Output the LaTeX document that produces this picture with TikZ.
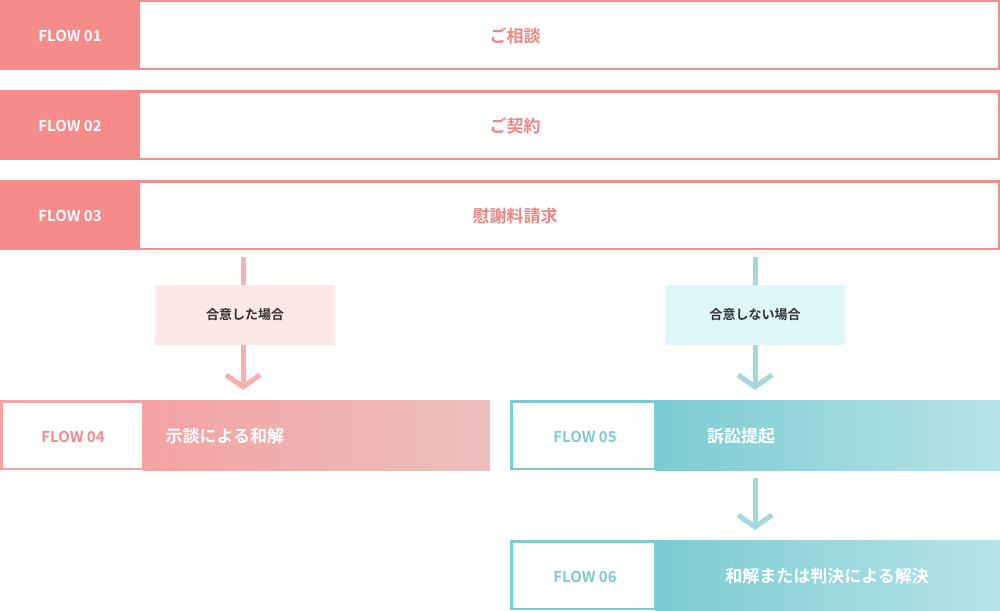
\documentclass[tikz,border=0pt]{standalone}
\usepackage{fontspec}
\setmainfont{Noto Sans CJK JP}[BoldFont={Noto Sans CJK JP Bold}]
\usetikzlibrary{arrows.meta}
\definecolor{sal}{HTML}{F58B8B}
\definecolor{salt}{HTML}{F08585}
\definecolor{pk1}{HTML}{F4A3A3}
\definecolor{pk2}{HTML}{EDBEBE}
\definecolor{pkl}{HTML}{FDE7E7}
\definecolor{pka}{HTML}{FBB0B0}
\definecolor{tl1}{HTML}{7CCBD2}
\definecolor{tl2}{HTML}{B6E4E8}
\definecolor{tll}{HTML}{E0F7FA}
\definecolor{tla}{HTML}{A3D9DE}
\begin{document}
\begin{tikzpicture}[x=1pt,y=-1pt,font=\bfseries,
 lab/.style={font=\bfseries\fontsize{15}{15}\selectfont,text=white},
 ttl/.style={font=\bfseries\fontsize{17}{17}\selectfont,text=salt},
 wt/.style={font=\bfseries\fontsize{17}{17}\selectfont,text=white},
 cond/.style={font=\bfseries\fontsize{13}{13}\selectfont,text=black!80},
 arr/.style={line width=5pt,-{Straight Barb[length=12pt,width=34pt,line width=5pt]}}]
\useasboundingbox (0,0) rectangle (1000,610);
% rows 1-3
\foreach \y/\n/\t in {0/01/ご相談,90/02/ご契約,180/03/慰謝料請求}{
 \fill[sal] (0,\y) rectangle (139,\y+70);
 \draw[sal,line width=2.5pt] (139,\y+1.25) rectangle (998.75,\y+68.75);
 \node[lab] at (70,\y+36) {FLOW \n};
 \node[ttl] at (515,\y+36) {\t};
}
\coordinate (l0) at (243,257); \coordinate (r0) at (755,257);
\node[fill=pkl,minimum width=180pt,minimum height=60pt,inner sep=0,cond] (lc) at (245,315) {合意した場合};
\node[fill=tll,minimum width=180pt,minimum height=60pt,inner sep=0,cond] (rc) at (755,315) {合意しない場合};
\draw[pka,line width=5pt] (l0) -- (243,285);
\draw[tla,line width=5pt] (r0) -- (755,285);
\coordinate (l1) at (243,390); \coordinate (r1) at (755,390);
\draw[pka,arr] (243,345) -- (l1);
\draw[tla,arr] (755,345) -- (r1);
% row 4
\shade[left color=pk1,right color=pk2] (143,400) rectangle (490,470);
\draw[pk1,line width=2.5pt] (1.25,401.25) rectangle (143,468.75);
\node[lab,text=sal] at (73,437) {FLOW 04};
\node[wt,anchor=west] at (162,436) {示談による和解};
% row 5
\shade[left color=tl1,right color=tl2] (655,400) rectangle (1000,470);
\draw[tl1,line width=2.5pt] (511.25,401.25) rectangle (655,468.75);
\node[lab,text=tl1] at (585,437) {FLOW 05};
\node[wt] at (741,436) {訴訟提起};
\draw[tla,arr] (755,478) -- (755,530);
% row 6
\shade[left color=tl1,right color=tl2] (655,540) rectangle (1000,610);
\draw[tl1,line width=2.5pt] (511.25,541.25) rectangle (655,608.75);
\node[lab,text=tl1] at (585,577) {FLOW 06};
\node[wt] at (827,576) {和解または判決による解決};
\end{tikzpicture}
\end{document}
